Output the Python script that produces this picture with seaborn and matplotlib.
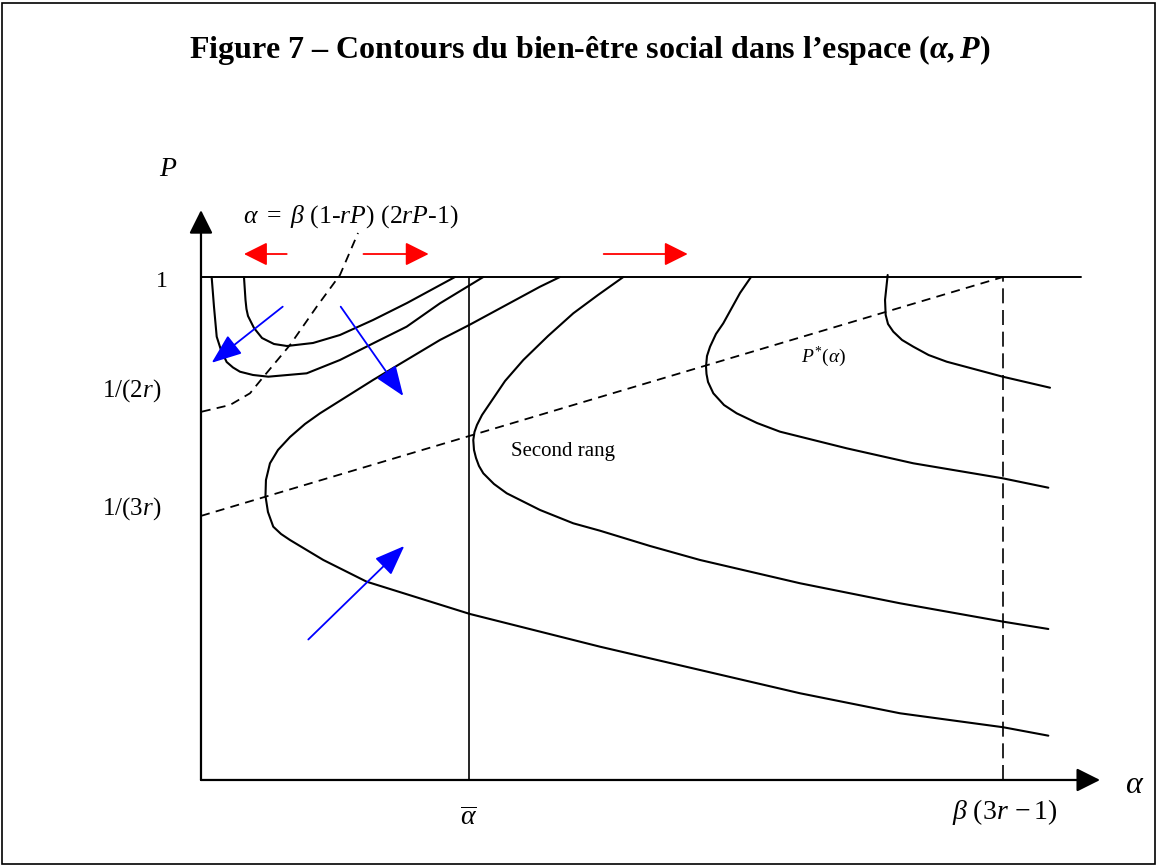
import numpy as np
import matplotlib
matplotlib.use("Agg")
import matplotlib.pyplot as plt
import seaborn as sns
from matplotlib.patches import Rectangle

alpha_bar = 0.334
alpha_max = 1.0
p_2r = 0.732          # 1/(2r)
p_3r = 0.525          # 1/(3r)

# welfare contours, listed top -> bottom along each curve
c1_a = [0.0536, 0.0555, 0.0567, 0.0586, 0.0661, 0.0761, 0.0910, 0.1072, 0.1397, 0.1733, 0.2145, 0.2569, 0.3167]
c1_p = [1.0, 0.9543, 0.9364, 0.9225, 0.8986, 0.8787, 0.8668, 0.8628, 0.8688, 0.8847, 0.9145, 0.9483, 1.0]

c2_a = [0.0133, 0.0162, 0.0196, 0.0249, 0.0320, 0.0399, 0.0486, 0.0648, 0.0839, 0.1318, 0.1733, 0.2148,
        0.2564, 0.2980, 0.3520]
c2_p = [1.0, 0.9410, 0.8813, 0.8549, 0.8310, 0.8201, 0.8117, 0.8052, 0.8018, 0.8085, 0.8350, 0.8682,
        0.9012, 0.9477, 1.0]

c3_a = [0.4476, 0.4227, 0.3345, 0.2980, 0.2145, 0.1484, 0.1297, 0.1110, 0.0960, 0.0860, 0.0810, 0.0804,
        0.0835, 0.0901, 0.0998, 0.1110, 0.1297, 0.1525, 0.2066, 0.3354, 0.4975, 0.6222, 0.7469, 0.8716,
        1.0004, 1.0565]
c3_p = [1.0, 0.9807, 0.9046, 0.8748, 0.7952, 0.7290, 0.7078, 0.6819, 0.6561, 0.6296, 0.5964, 0.5646,
        0.5328, 0.5036, 0.4891, 0.4771, 0.4592, 0.4374, 0.3942, 0.3300, 0.2650, 0.2187, 0.1724, 0.1326,
        0.1048, 0.0881]

c4_a = [0.5266, 0.4950, 0.4642, 0.4327, 0.4019, 0.3791, 0.3603, 0.3504, 0.3441, 0.3410, 0.3395, 0.3404,
        0.3429, 0.3466, 0.3520, 0.3653, 0.3812, 0.4227, 0.4642, 0.4975, 0.5599, 0.6222, 0.7469, 0.8716,
        1.0004, 1.0565]
c4_p = [1.0, 0.9642, 0.9278, 0.8827, 0.8350, 0.7932, 0.7489, 0.7256, 0.7058, 0.6918, 0.6759, 0.6561,
        0.6402, 0.6243, 0.6097, 0.5885, 0.5700, 0.5368, 0.5103, 0.4956, 0.4652, 0.4374, 0.3911, 0.3513,
        0.3147, 0.3002]

c5_a = [0.6858, 0.6721, 0.6512, 0.6421, 0.6347, 0.6309, 0.6297, 0.6303, 0.6322, 0.6388, 0.6521, 0.6679,
        0.6933, 0.7219, 0.8051, 0.8882, 0.9996, 1.0565]
c5_p = [1.0, 0.9682, 0.9079, 0.8867, 0.8614, 0.8429, 0.8217, 0.8072, 0.7913, 0.7688, 0.7455, 0.7290,
        0.7097, 0.6925, 0.6594, 0.6296, 0.5998, 0.5811]

c6_a = [0.8562, 0.8529, 0.8537, 0.8566, 0.8632, 0.8741, 0.8882, 0.9072, 0.9298, 0.9996, 1.0586]
c6_p = [1.004, 0.9543, 0.9245, 0.9066, 0.8913, 0.8748, 0.8614, 0.8449, 0.8316, 0.8018, 0.7799]

# alpha = beta(1-rP)(2rP-1)
iso_a = [0.0009, 0.0362, 0.0611, 0.0777, 0.1110, 0.1443, 0.1733, 0.1958]
iso_p = [0.7322, 0.7455, 0.7688, 0.8012, 0.8648, 0.9410, 1.0040, 1.0875]

# P*(alpha)
pstar_a = [0.0, alpha_max]
pstar_p = [p_3r, 1.0]

# direction arrows (start, end)
red_arrows = [((0.1069, 1.0457), (0.0536, 1.0457)),
              ((0.2026, 1.0457), (0.2839, 1.0457)),
              ((0.5021, 1.0457), (0.6069, 1.0457))]
blue_arrows = [((0.1019, 0.9410), (0.0133, 0.8294)),
               ((0.1742, 0.9410), (0.2522, 0.7634)),
               ((0.1338, 0.2793), (0.2535, 0.4652))]

# --- style ---
sns.set_theme(style="white")
plt.rcParams['font.family'] = ['Liberation Serif', 'DejaVu Serif']
plt.rcParams['text.color'] = 'black'
plt.rcParams['mathtext.fontset'] = 'custom'
plt.rcParams['mathtext.rm'] = 'Liberation Serif'
plt.rcParams['mathtext.it'] = 'Liberation Serif:italic'
plt.rcParams['mathtext.bf'] = 'Liberation Serif:bold'
plt.rcParams['mathtext.bfit'] = 'Liberation Serif:bold:italic'

fig = plt.figure(figsize=(11.57, 8.67), dpi=100)
ax = fig.add_axes([0, 0, 1, 1])
ax.set_xlim(-0.2506, 1.1920)
ax.set_ylim(-0.1730, 1.5507)
ax.set_axis_off()

# border of the figure box
fig.patches.append(Rectangle((0.002, 0.003), 0.996, 0.994, transform=fig.transFigure,
                             fill=False, edgecolor='black', lw=1.2))

# axes with arrow heads
ax.annotate('', xy=(0, 1.133), xytext=(0, 0),
            arrowprops=dict(arrowstyle='-|>,head_length=1.0,head_width=0.5', color='black',
                            lw=1.6, mutation_scale=14.4, shrinkA=0, shrinkB=0))
ax.annotate('', xy=(1.121, 0), xytext=(0, 0),
            arrowprops=dict(arrowstyle='-|>,head_length=1.0,head_width=0.5', color='black',
                            lw=1.6, mutation_scale=14.4, shrinkA=0, shrinkB=0))

# P = 1 line, alpha bar line, dashed beta(3r-1) line
ax.plot([0, 1.097], [1.0, 1.0], color='black', lw=1.4)
ax.plot([alpha_bar, alpha_bar], [0, 1.0], color='black', lw=1.2)
ax.plot([alpha_max, alpha_max], [0, 1.0], color='black', lw=1.2, linestyle=(0, (9, 4)))

# contours
for xs, ys in [(c1_a, c1_p), (c2_a, c2_p), (c3_a, c3_p), (c4_a, c4_p), (c5_a, c5_p), (c6_a, c6_p)]:
    sns.lineplot(x=xs, y=ys, sort=False, estimator=None, color='black', lw=1.5, ax=ax,
                 solid_joinstyle='round')

sns.lineplot(x=iso_a, y=iso_p, sort=False, estimator=None, color='black', lw=1.3, ax=ax,
             linestyle=(0, (5, 3.5)))
sns.lineplot(x=pstar_a, y=pstar_p, sort=False, estimator=None, color='black', lw=1.3, ax=ax,
             linestyle=(0, (5, 3.5)))

for (x0, y0), (x1, y1) in red_arrows:
    ax.annotate('', xy=(x1, y1), xytext=(x0, y0),
                arrowprops=dict(arrowstyle='-|>,head_length=1.0,head_width=0.5', color='red',
                                lw=1.3, mutation_scale=14.4, shrinkA=0, shrinkB=0))
for (x0, y0), (x1, y1) in blue_arrows:
    ax.annotate('', xy=(x1, y1), xytext=(x0, y0),
                arrowprops=dict(arrowstyle='-|>,head_length=1.3,head_width=0.5', color='blue',
                                lw=1.3, mutation_scale=14.4, shrinkA=0, shrinkB=0))

# labels
ax.text(-0.041, 1.213, '$P$', fontsize=20, ha='center', va='center')
ax.text(-0.041, 0.991, '1', fontsize=17, ha='right', va='center')
ax.text(-0.050, 0.775, r'$\mathrm{1/(2}r\mathrm{)}$', fontsize=18, ha='right', va='center')
ax.text(-0.050, 0.540, r'$\mathrm{1/(3}r\mathrm{)}$', fontsize=18, ha='right', va='center')
ax.text(0.0524, 1.1197, r'$\alpha\ =\ \beta\ \mathrm{(1\text{-}}rP\mathrm{)\ (2}rP\mathrm{\text{-}1)}$',
        fontsize=18.5, ha='left', va='center')
ax.text(0.3866, 0.6527, 'Second rang', fontsize=15, ha='left', va='center')
ax.text(0.7756, 0.8416, r'$P^{*}(\alpha)$', fontsize=14, ha='center', va='center')
ax.text(alpha_bar, -0.076, r'$\overline{\alpha}$', fontsize=20, ha='center', va='center')
ax.text(1.0025, -0.064, r'$\beta\ (3r\,-1)$', fontsize=20, ha='center', va='center')
ax.text(1.1646, -0.010, r'$\alpha$', fontsize=23, ha='center', va='center')

fig.text(0.51, 0.9423, r'Figure 7 – Contours du bien-être social dans l’espace ($\mathbfit{\alpha,P}$)',
         fontsize=23, fontweight='bold', ha='center', va='center')

fig.savefig('out.png', dpi=100)
